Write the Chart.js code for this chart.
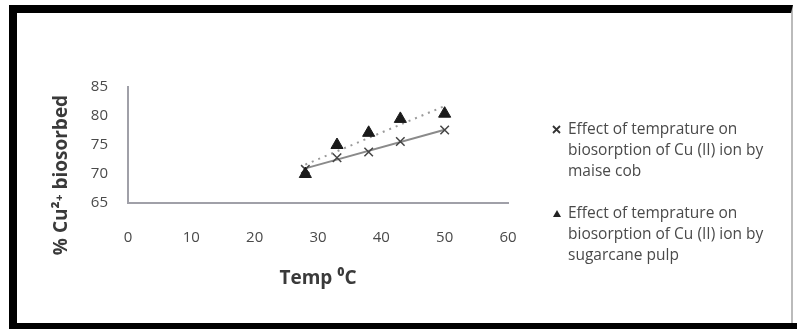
<!DOCTYPE html>
<html>
<head>
<meta charset="utf-8">
<script src="https://cdn.jsdelivr.net/npm/chart.js@4.4.1/dist/chart.umd.min.js"></script>
<style>
  body { margin: 0; background: #fff; }
  #wrap { position: relative; width: 797px; height: 329px; overflow: hidden; background: #fff; }
  #frame {
    position: absolute; left: 9px; top: 5px; width: 774px; height: 400px;
    border-left: 8px solid #000; border-top: 8px solid #000; border-right: 2px solid #bbb;
  }
  #bottomBar { position: absolute; left: 9px; top: 323px; width: 788px; height: 6px; background: #000; }
  #chart { position: absolute; left: 0; top: 0; }
  #legend {
    position: absolute; left: 552px; top: 118px; width: 240px;
    font: 15.5px "Open Sans", sans-serif; color: #4a4a4a; line-height: 21px;
  }
  .entry { position: relative; padding-left: 16px; margin-bottom: 21px; white-space: nowrap; }
  .entry svg { position: absolute; left: 0; top: 6px; }
</style>
</head>
<body>
<div id="wrap">
  <div id="frame"></div>
  <div id="bottomBar"></div>
  <canvas id="chart" width="797" height="329"></canvas>
  <div id="legend">
    <div class="entry">
      <svg width="10" height="10"><path d="M1 2 L8 9 M8 2 L1 9" stroke="#333" stroke-width="1.8"/></svg>
      Effect of temprature on<br>biosorption of Cu (II) ion by<br>maise cob
    </div>
    <div class="entry">
      <svg width="10" height="10"><path d="M1 9 L5 2 L9 9 Z" fill="#222"/></svg>
      Effect of temprature on<br>biosorption of Cu (II) ion by<br>sugarcane pulp
    </div>
  </div>
</div>
<script>
/* DATA */
const temps = [28, 33, 38, 43, 50];
const maizeCob = [70.8, 72.8, 73.8, 75.6, 77.6];
const sugarcane = [70.0, 75.0, 77.1, 79.5, 80.4];

const xTicks = [0, 10, 20, 30, 40, 50, 60];
const yTicks = [65, 70, 75, 80, 85];

/* HELPERS */
const pts = (xs, ys) => xs.map((x, i) => ({ x, y: ys[i] }));

// linear trendline through the series (as in the excel chart)
function trend(xs, ys) {
  const n = xs.length;
  const mx = xs.reduce((a, b) => a + b, 0) / n;
  const my = ys.reduce((a, b) => a + b, 0) / n;
  let sxy = 0, sxx = 0;
  xs.forEach((x, i) => { sxy += (x - mx) * (ys[i] - my); sxx += (x - mx) ** 2; });
  const b = sxy / sxx, a = my - b * mx;
  const x0 = xs[0], x1 = xs[n - 1];
  return [{ x: x0, y: a + b * x0 }, { x: x1, y: a + b * x1 }];
}

/* Y TITLE */
const yTitle = {
  id: "yTitle",
  afterDraw(chart) {
    const c = chart.ctx;
    c.save();
    c.translate(62, 175);
    c.rotate(-Math.PI / 2);
    c.font = "bold 19px 'Open Sans', sans-serif";
    c.fillStyle = "#3a3a3a";
    c.textAlign = "center";
    c.textBaseline = "middle";
    c.fillText("% Cu²⁺ biosorbed", 0, 0);
    c.restore();
  }
};

new Chart(document.getElementById("chart"), {
  type: "scatter",
  data: {
    datasets: [
      {
        type: "line",
        data: trend(temps, maizeCob),
        borderColor: "#8a8a8a",
        borderWidth: 2,
        pointRadius: 0,
        order: 3
      },
      {
        type: "line",
        data: trend(temps, sugarcane),
        borderColor: "#9a9a9a",
        borderWidth: 2,
        borderDash: [2, 5],
        pointRadius: 0,
        order: 3
      },
      {
        data: pts(temps, maizeCob),
        pointStyle: "crossRot",
        pointRadius: 6,
        borderColor: "#444",
        borderWidth: 1.5,
        order: 1
      },
      {
        data: pts(temps, sugarcane),
        pointStyle: "triangle",
        pointRadius: 7,
        backgroundColor: "#1a1a1a",
        borderColor: "#1a1a1a",
        borderWidth: 1,
        order: 0
      }
    ]
  },
  options: {
    responsive: false,
    animation: false,
    layout: { padding: { left: 0, right: 289, top: 87, bottom: 0 } },
    plugins: { legend: { display: false }, tooltip: { enabled: false } },
    scales: {
      x: {
        type: "linear",
        min: 0, max: 60,
        afterFit: s => { s.height = 126; },
        afterBuildTicks: s => { s.ticks = xTicks.map(v => ({ value: v })); },
        grid: { display: false, drawTicks: false },
        border: { color: "#a0a0a8", width: 2 },
        ticks: { padding: 26, color: "#4a4a4a", font: { family: "Open Sans", size: 15 } },
        title: {
          display: true,
          text: "Temp ⁰C",
          color: "#3a3a3a",
          font: { family: "Open Sans", size: 19, weight: "bold" },
          padding: { top: 0, bottom: 39 }
        }
      },
      y: {
        min: 65, max: 85,
        afterFit: s => { s.width = 128; },
        afterBuildTicks: s => { s.ticks = yTicks.map(v => ({ value: v })); },
        grid: { display: false, drawTicks: false },
        border: { color: "#a0a0a8", width: 2 },
        ticks: { padding: 20, color: "#4a4a4a", font: { family: "Open Sans", size: 15 } }
      }
    }
  },
  plugins: [yTitle]
});
</script>
</body>
</html>
